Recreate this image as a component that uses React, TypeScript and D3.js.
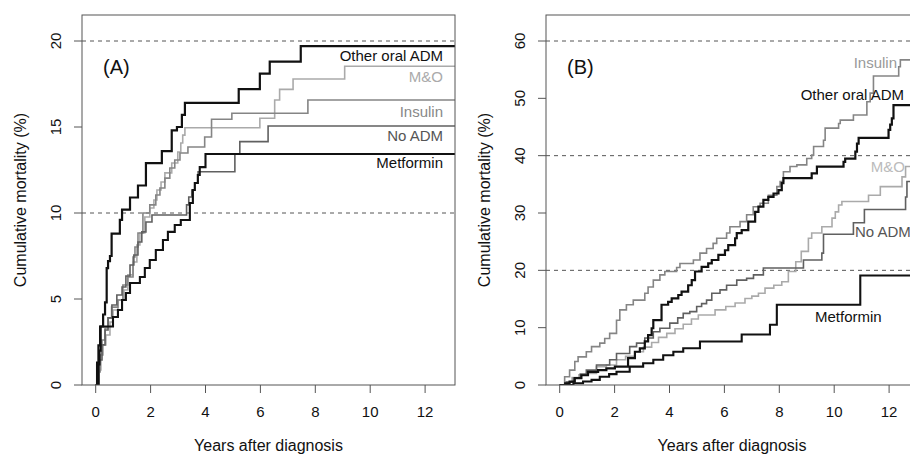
import React from "react";
import * as d3 from "d3";

// cumulative mortality (%) step points [years, %]
const otherOralA = [[0,0],[0.05,1.3],[0.1,2.3],[0.16,3.4],[0.27,4.1],[0.34,4.8],[0.4,6.8],[0.45,7.2],[0.52,7.5],[0.58,8.8],[0.88,9.6],[0.96,10.2],[1.25,10.9],[1.54,11.6],[1.83,12.9],[2.41,13.6],[2.77,14.8],[2.96,15.0],[3.14,15.7],[3.25,16.4],[5.21,17.2],[5.98,18.1],[6.34,18.8],[7.47,19.7]];
const mandoA = [[0,0],[0.12,0.87],[0.19,1.74],[0.27,2.33],[0.37,2.91],[0.52,3.66],[0.63,4.36],[0.81,4.94],[1.03,5.52],[1.17,6.4],[1.36,7.15],[1.5,8.14],[1.61,8.84],[1.79,9.77],[1.97,10.29],[2.12,10.76],[2.23,11.34],[2.38,11.8],[2.52,12.33],[2.77,12.91],[2.99,13.55],[3.1,14.07],[3.17,14.53],[3.25,14.96],[5.98,15.51],[6.52,16.57],[6.7,17.19],[7.19,17.79],[9.07,18.53]];
const insulinA = [[0,0],[0.08,0.76],[0.16,1.74],[0.23,2.62],[0.34,3.31],[0.45,3.9],[0.58,4.53],[0.81,4.94],[0.99,5.81],[1.17,6.28],[1.36,7.44],[1.43,8.02],[1.54,8.84],[1.72,10.0],[1.97,10.47],[2.19,11.05],[2.34,11.45],[2.52,12.03],[2.7,12.62],[2.88,13.08],[3.07,13.49],[3.36,13.84],[3.97,14.42],[4.22,15.45],[4.96,15.8],[7.73,16.57]];
const noAdmA = [[0,0],[0.12,1.45],[0.23,2.33],[0.34,3.2],[0.45,3.9],[0.59,4.65],[0.77,5.23],[0.96,5.7],[1.1,6.34],[1.25,6.98],[1.39,7.56],[1.54,8.31],[1.68,8.9],[1.83,9.48],[2.05,9.88],[3.31,10.47],[3.39,10.93],[3.5,11.34],[3.61,11.74],[3.73,12.4],[5.07,13.43],[5.25,14.15],[6.28,15.06]];
const metforminA = [[0,0],[0.1,1.2],[0.14,2.0],[0.18,3.4],[0.63,3.95],[0.81,4.36],[0.96,4.94],[1.1,5.35],[1.25,5.93],[1.61,6.28],[1.79,6.8],[1.97,7.27],[2.19,7.85],[2.45,8.43],[2.63,8.9],[2.88,9.3],[3.1,9.59],[3.43,10.58],[3.54,11.34],[3.61,11.74],[3.72,12.21],[3.79,12.67],[4.0,13.43]];

const insulinB = [[0,0],[0.18,1.45],[0.36,2.6],[0.55,4.1],[0.67,4.9],[0.97,5.8],[1.16,6.7],[1.46,7.3],[1.64,8.1],[1.82,9.0],[2.07,11.3],[2.19,13.1],[2.43,14.0],[2.68,14.8],[3.1,16.0],[3.22,17.1],[3.41,18.3],[3.65,19.2],[3.83,19.8],[4.26,20.5],[4.38,21.2],[4.87,21.8],[5.11,23.0],[5.35,23.8],[5.59,24.7],[5.72,25.6],[6.08,26.5],[6.2,27.6],[6.57,28.5],[6.81,29.7],[7.05,31.1],[7.3,31.7],[7.6,33.1],[7.91,34.6],[8.03,35.5],[8.15,37.2],[8.39,38.1],[8.64,38.4],[9.0,39.5],[9.18,40.1],[9.25,41.6],[9.61,42.7],[9.67,44.8],[10.16,45.6],[10.22,46.2],[10.7,47.1],[11.19,49.4],[11.31,50.9],[11.43,53.9],[12.35,55.5],[12.41,56.7]];
const otherOralB = [[0,0],[0.2,0.3],[0.36,0.6],[0.55,1.2],[0.79,1.7],[1.03,2.3],[1.4,2.6],[1.7,2.9],[2.01,3.2],[2.49,4.7],[2.74,5.8],[2.92,6.4],[3.1,7.6],[3.22,8.7],[3.35,9.9],[3.41,11.3],[3.71,14.0],[3.95,14.5],[4.08,15.1],[4.32,15.7],[4.44,16.3],[4.68,17.4],[4.81,18.3],[4.93,19.8],[5.17,20.6],[5.41,21.2],[5.54,21.8],[5.78,22.7],[6.02,23.5],[6.14,24.4],[6.39,25.6],[6.45,26.5],[6.63,27.0],[6.87,28.5],[7.12,30.2],[7.24,31.1],[7.42,32.3],[7.6,32.8],[7.79,33.4],[7.97,34.0],[8.09,35.2],[8.15,36.1],[9.18,36.9],[9.37,38.1],[10.34,38.9],[10.4,39.5],[10.77,40.7],[10.83,42.1],[10.89,43.1],[11.98,44.5],[12.04,45.4],[12.1,46.5],[12.16,48.8]];
const mandoB = [[0,0],[0.2,0.5],[0.45,1.3],[0.7,1.8],[0.97,2.0],[1.34,3.2],[1.7,3.5],[2.07,4.4],[2.4,5.0],[2.75,5.8],[3.05,6.6],[3.35,7.4],[3.6,8.3],[3.9,9.0],[4.2,9.8],[4.5,10.6],[4.8,11.5],[5.05,12.2],[5.66,13.1],[6.05,13.7],[6.39,14.3],[6.75,15.1],[7.0,15.5],[7.24,16.0],[7.48,16.9],[7.8,17.4],[8.09,18.0],[8.33,19.8],[8.6,21.5],[8.8,23.3],[9.06,25.6],[9.18,26.5],[9.55,27.6],[9.92,29.1],[10.04,30.2],[10.16,31.4],[10.28,32.0],[11.25,33.1],[11.68,34.6],[12.47,36.3],[12.6,38.1]];
const noAdmB = [[0,0],[0.25,0.5],[0.5,1.2],[0.75,1.9],[0.97,2.6],[1.34,3.5],[1.82,4.4],[2.07,5.5],[2.55,6.7],[2.8,7.3],[3.1,8.2],[3.41,9.3],[3.65,9.9],[4.01,10.8],[4.3,11.7],[4.5,12.5],[4.74,12.8],[4.99,13.7],[5.17,14.2],[5.35,14.8],[5.54,16.0],[5.84,16.6],[6.08,17.4],[6.45,18.3],[6.81,18.6],[7.06,19.2],[7.42,20.4],[8.88,21.8],[9.55,23.0],[9.61,26.3],[10.7,28.3],[11.1,30.6],[12.6,32.8],[12.65,35.5]];
const metforminB = [[0,0],[0.5,0.3],[0.85,0.6],[1.16,0.9],[1.46,1.45],[1.8,1.9],[2.07,2.3],[2.55,3.2],[3.04,3.8],[3.41,4.4],[3.77,5.2],[4.14,5.8],[4.5,6.4],[5.11,7.6],[6.63,8.8],[7.66,10.5],[7.91,14.0],[10.95,19.1]];

const xTicks = [0, 2, 4, 6, 8, 10, 12];
const yTicksA = [0, 5, 10, 15, 20];
const yTicksB = [0, 10, 20, 30, 40, 50, 60];
const refLinesA = [10, 20];
const refLinesB = [20, 40, 60];

const FONT = "'Liberation Sans', Arial, Helvetica, sans-serif";

const styles = {
  other: { color: "#111", width: 2.2 },
  mando: { color: "#aaa", width: 1.6 },
  insulin: { color: "#858585", width: 1.6 },
  noadm: { color: "#606060", width: 1.6 },
  metformin: { color: "#111", width: 2.1 },
};

const Panel = ({ left, right, yMax, yTicks, refLines, series, tag, labels, id }) => {
  const top = 15, bottom = 385;
  // x: 0..12 years over the tick positions, box spans a bit beyond
  const x = d3.scaleLinear().domain([0, 12]).range([left + 13.7, left + 13.7 + 329.4]);
  const y = d3.scaleLinear().domain([0, yMax]).range([bottom, 41]);
  const tEnd = x.invert(right) + 0.5;
  const line = d3.line().x((d) => x(d[0])).y((d) => y(d[1])).curve(d3.curveStepAfter);

  return (
    <g>
      <defs>
        <clipPath id={id}>
          <rect x={left} y={top} width={right - left} height={bottom - top} />
        </clipPath>
      </defs>
      {refLines.map((v) => (
        <line key={v} x1={left} x2={right} y1={y(v)} y2={y(v)} stroke="#555" strokeDasharray="4,4" strokeWidth={1} />
      ))}
      <g clipPath={`url(#${id})`}>
        {series.map((s) => {
          const pts = [...s.data, [tEnd, s.data[s.data.length - 1][1]]];
          return <path key={s.key} d={line(pts)} fill="none" stroke={styles[s.key].color} strokeWidth={styles[s.key].width} />;
        })}
      </g>
      <rect x={left} y={top} width={right - left} height={bottom - top} fill="none" stroke="#555" strokeWidth={1} />
      {xTicks.map((t) => (
        <g key={t}>
          <line x1={x(t)} x2={x(t)} y1={bottom} y2={bottom + 8} stroke="#555" />
          <text x={x(t)} y={417} textAnchor="middle" fontSize={15} fontFamily={FONT} fill="#111">{t}</text>
        </g>
      ))}
      {yTicks.map((v) => (
        <g key={v}>
          <line x1={left - 8} x2={left} y1={y(v)} y2={y(v)} stroke="#555" />
          <text transform={`translate(${left - 21},${y(v)}) rotate(-90)`} textAnchor="middle" fontSize={15} fontFamily={FONT} fill="#111">{v}</text>
        </g>
      ))}
      <text x={(left + right) / 2} y={451} textAnchor="middle" fontSize={16} fontFamily={FONT} fill="#111">Years after diagnosis</text>
      <text transform={`translate(${left - 56},200) rotate(-90)`} textAnchor="middle" fontSize={16} fontFamily={FONT} fill="#111">Cumulative mortality (%)</text>
      <text x={left + 21} y={74} fontSize={20} fontFamily={FONT} fill="#111">{tag}</text>
      {labels.map((l) => (
        <text key={l.text} x={l.x} y={l.y} textAnchor={l.anchor} fontSize={15} fontFamily={FONT} fill={l.color}>{l.text}</text>
      ))}
    </g>
  );
};

export default function App() {
  const seriesA = [
    { key: "mando", data: mandoA },
    { key: "insulin", data: insulinA },
    { key: "noadm", data: noAdmA },
    { key: "metformin", data: metforminA },
    { key: "other", data: otherOralA },
  ];
  const seriesB = [
    { key: "mando", data: mandoB },
    { key: "insulin", data: insulinB },
    { key: "noadm", data: noAdmB },
    { key: "metformin", data: metforminB },
    { key: "other", data: otherOralB },
  ];
  const labelsA = [
    { text: "Other oral ADM", x: 443, y: 61, anchor: "end", color: "#111" },
    { text: "M&O", x: 443, y: 81.5, anchor: "end", color: "#aaa" },
    { text: "Insulin", x: 443, y: 116.5, anchor: "end", color: "#888" },
    { text: "No ADM", x: 443, y: 141, anchor: "end", color: "#555" },
    { text: "Metformin", x: 443, y: 168, anchor: "end", color: "#111" },
  ];
  const labelsB = [
    { text: "Insulin", x: 897, y: 68, anchor: "end", color: "#999" },
    { text: "Other oral ADM", x: 904, y: 100, anchor: "end", color: "#111" },
    { text: "M&O", x: 905, y: 171.5, anchor: "end", color: "#bbb" },
    { text: "No ADM", x: 855, y: 237, anchor: "start", color: "#555" },
    { text: "Metformin", x: 815, y: 321.5, anchor: "start", color: "#111" },
  ];
  return (
    <svg width={910} height={455} style={{ position: "absolute", left: 0, top: 0, background: "#fff" }}>
      <Panel id="clipA" left={82} right={455} yMax={20} yTicks={yTicksA} refLines={refLinesA} series={seriesA} tag="(A)" labels={labelsA} />
      <Panel id="clipB" left={546} right={918} yMax={60} yTicks={yTicksB} refLines={refLinesB} series={seriesB} tag="(B)" labels={labelsB} />
    </svg>
  );
}
